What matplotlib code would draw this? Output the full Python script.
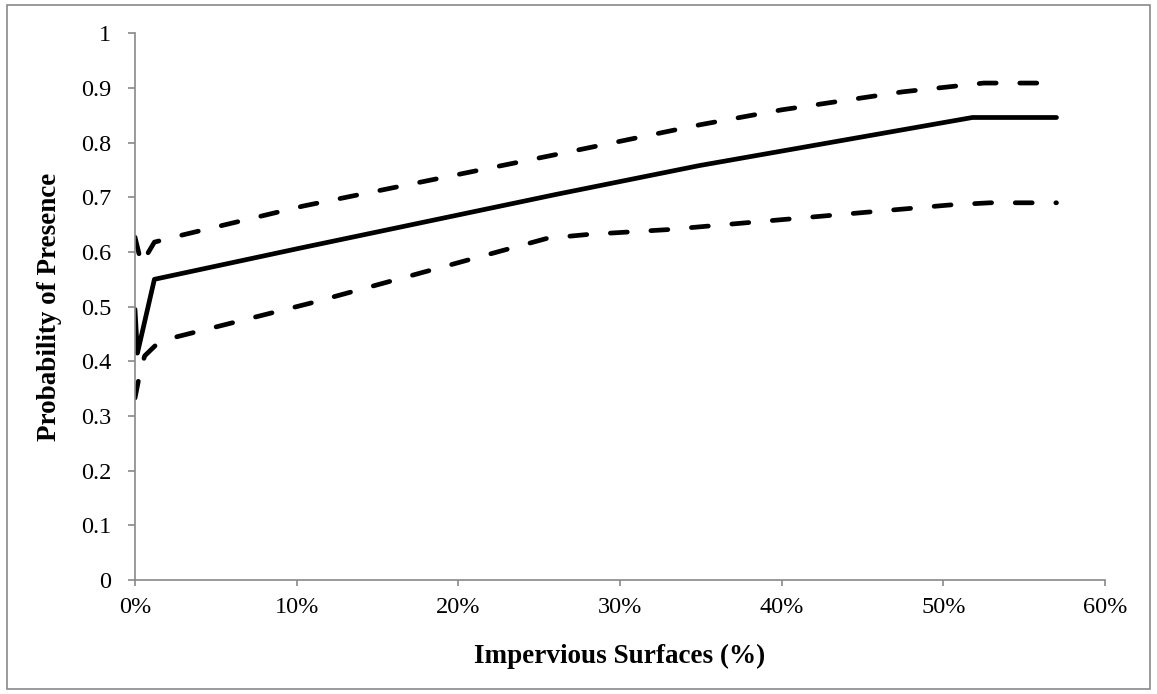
import matplotlib
matplotlib.use("Agg")
import matplotlib.pyplot as plt
from matplotlib.patches import Rectangle

# values (x in % impervious surface)
mean_x = [0, 0.15, 1.2, 10.2, 26, 34.9, 51.8, 57.0]
mean_y = [0.495, 0.415, 0.55, 0.607, 0.705, 0.758, 0.846, 0.846]

upper_x = [0, 0.4, 1.2, 2.5, 10.4, 26, 35, 40, 47.5, 52.5, 57.0]
upper_y = [0.627, 0.578, 0.618, 0.628, 0.684, 0.778, 0.833, 0.86, 0.893, 0.909, 0.909]

lower_x = [0, 0.35, 0.6, 1.3, 2.6, 10.8, 25.5, 28, 33, 50.4, 52.9, 57.0]
lower_y = [0.333, 0.385, 0.41, 0.43, 0.445, 0.506, 0.625, 0.632, 0.641, 0.686, 0.69, 0.69]

x_ticks = [0, 10, 20, 30, 40, 50, 60]
y_ticks = [0, 0.1, 0.2, 0.3, 0.4, 0.5, 0.6, 0.7, 0.8, 0.9, 1]

plt.rcParams['font.family'] = ['Liberation Serif', 'DejaVu Serif']

fig = plt.figure(figsize=(11.57, 6.94), dpi=100)
ax = fig.add_axes([135 / 1157, 114 / 694, 970 / 1157, 546.7 / 694])

lw = 3.4
ax.plot(mean_x, mean_y, color='black', lw=lw, solid_capstyle='round',
        solid_joinstyle='round')
for xs, ys in [(upper_x, upper_y), (lower_x, lower_y)]:
    ax.plot(xs, ys, color='black', lw=lw, dashes=(3.6, 5.0),
            dash_capstyle='round', dash_joinstyle='round')

ax.set_xlim(0, 60)
ax.set_ylim(0, 1)
ax.set_xticks(x_ticks)
ax.set_xticklabels([f"{v}%" for v in x_ticks])
ax.set_yticks(y_ticks)
ax.set_yticklabels([f"{v:g}" for v in y_ticks])

grey = '#898989'
for s in ['top', 'right']:
    ax.spines[s].set_visible(False)
for s in ['left', 'bottom']:
    ax.spines[s].set_color(grey)
    ax.spines[s].set_linewidth(1.2)
ax.tick_params(axis='both', colors=grey, labelcolor='black', labelsize=17.5,
               width=1.2, direction='out')
ax.tick_params(axis='y', length=5, pad=12)
ax.tick_params(axis='x', length=4, pad=8)

ax.set_xlabel('Impervious Surfaces (%)', fontsize=19.5, fontweight='bold')
ax.set_ylabel('Probability of Presence', fontsize=19.5, fontweight='bold')
ax.xaxis.set_label_coords(0.5, -0.117)
ax.yaxis.set_label_coords(-0.075, 0.5)

# grey frame around the whole chart
fig.patches.append(Rectangle((7 / 1157, 5 / 694), 1143 / 1157, 684 / 694,
                             transform=fig.transFigure, fill=False,
                             edgecolor=grey, lw=1.2))

fig.savefig('out.png', dpi=100)
